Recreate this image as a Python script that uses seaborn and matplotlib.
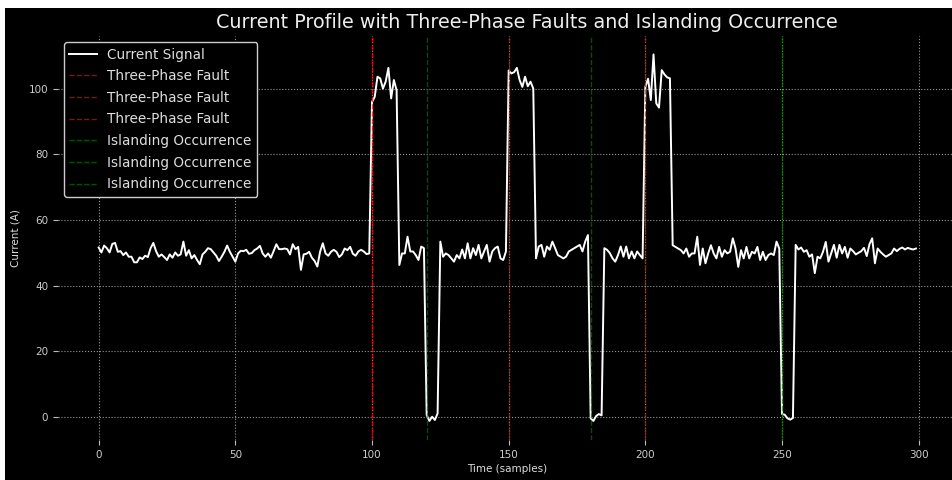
import numpy as np
import pandas as pd
import matplotlib
matplotlib.use("Agg")
import matplotlib.pyplot as plt
from matplotlib.patches import Rectangle
import seaborn as sns

# ---- data ----
base_000_099 = [51.6, 50.1, 52.2, 51.4, 50.1, 52.7, 53.0, 50.3, 50.5, 49.3,
                50.1, 48.8, 48.8, 47.1, 47.1, 48.6, 48.1, 49.1, 48.7, 51.4,
                53.0, 50.5, 48.8, 49.5, 48.7, 47.8, 49.5, 48.5, 50.1, 49.1,
                49.5, 53.4, 49.1, 50.8, 48.3, 49.3, 47.8, 46.5, 49.5, 50.3,
                51.4, 51.1, 50.1, 49.1, 47.5, 48.8, 50.3, 52.2, 50.3, 48.8,
                47.3, 49.8, 50.6, 50.5, 50.9, 49.7, 49.9, 50.8, 51.3, 52.1,
                49.8, 48.8, 49.8, 48.5, 50.5, 52.6, 51.1, 51.1, 51.3, 51.1,
                49.5, 52.6, 51.1, 51.8, 44.8, 49.5, 49.7, 50.3, 48.5, 47.5,
                45.8, 50.3, 52.9, 49.8, 49.1, 50.3, 50.9, 50.3, 48.7, 49.5,
                51.3, 50.8, 51.8, 49.7, 49.1, 50.4, 50.9, 50.4, 49.6, 49.8]
fault_100_109 = [95.9, 97.5, 103.6, 103.1, 100.0, 102.1, 106.3, 97.0, 102.6, 99.5]
base_110_119 = [46.3, 49.8, 49.8, 54.9, 50.4, 50.4, 49.3, 47.8, 51.9, 51.4]
island_120_124 = [0.6, -1.2, 0.1, -0.9, 1.1]
base_125_149 = [53.4, 48.8, 49.8, 49.3, 48.3, 47.3, 49.3, 48.3, 51.0, 48.3,
                52.9, 48.3, 51.4, 49.3, 52.4, 48.3, 50.4, 52.4, 47.3, 50.4,
                51.4, 51.9, 48.3, 47.8, 50.4]
fault_150_159 = [105.5, 104.6, 105.0, 106.3, 102.6, 100.5, 103.6, 100.7, 102.1, 100.0]
base_160_179 = [48.3, 51.9, 52.4, 48.8, 51.9, 50.9, 53.4, 51.4, 49.3, 48.8,
                48.3, 48.8, 50.4, 50.9, 51.4, 51.9, 52.4, 50.4, 53.4, 55.4]
island_180_184 = [-0.4, -1.2, 0.3, 0.9, 0.5]
base_185_199 = [51.4, 50.9, 49.9, 48.3, 47.3, 49.3, 51.9, 48.8, 51.9, 48.3,
                50.4, 48.3, 50.4, 49.3, 48.3]
fault_200_209 = [100.5, 103.0, 96.5, 110.4, 95.5, 94.2, 105.6, 104.3, 103.4, 103.1]
base_210_249 = [52.3, 51.8, 51.3, 50.8, 49.8, 51.3, 48.8, 49.8, 49.8, 54.9,
                46.3, 51.3, 46.8, 49.8, 52.3, 49.8, 48.3, 51.8, 48.8, 50.8,
                49.8, 50.3, 54.4, 51.3, 45.7, 50.8, 48.3, 51.8, 48.3, 50.3,
                49.8, 51.8, 47.8, 50.3, 47.8, 49.3, 49.8, 49.3, 53.4, 51.3]
island_250_254 = [0.9, 0.7, -0.4, -0.8, -0.3]
base_255_299 = [52.4, 51.0, 51.6, 50.3, 50.8, 48.8, 49.5, 43.8, 48.8, 48.3,
                50.3, 53.3, 47.3, 49.8, 52.4, 48.5, 52.4, 49.8, 51.8, 48.5,
                51.3, 50.5, 49.5, 50.0, 50.5, 51.5, 49.0, 52.6, 54.4, 46.8,
                51.3, 50.3, 49.5, 48.8, 49.3, 49.8, 51.3, 50.5, 51.2, 51.6,
                51.0, 51.5, 51.2, 51.0, 51.3]

fault_times = [100, 150, 200]
islanding_times = [120, 180, 250]

current = np.array(base_000_099 + fault_100_109 + base_110_119 + island_120_124
                   + base_125_149 + fault_150_159 + base_160_179 + island_180_184
                   + base_185_199 + fault_200_209 + base_210_249 + island_250_254
                   + base_255_299)
time = np.arange(len(current))
df = pd.DataFrame({"Time": time, "Current": current})

# ---- styling ----
plt.rcParams.update({
    "font.family": ["DejaVu Sans"],
    "text.color": "white",
    "axes.labelcolor": "#dddddd",
    "xtick.color": "#cccccc",
    "ytick.color": "#cccccc",
})

fig = plt.figure(figsize=(9.53, 4.8), dpi=100, facecolor="black")
ax = fig.add_axes([57.8 / 953, 40 / 480, 899 / 953, 404 / 480])
ax.set_facecolor("black")

sns.lineplot(data=df, x="Time", y="Current", color="white", linewidth=1.4,
             label="Current Signal", ax=ax)

for t in fault_times:
    ax.axvline(t, color="red", linestyle="--", linewidth=1.0, alpha=0.7,
               label="Three-Phase Fault")
for t in islanding_times:
    ax.axvline(t, color="green", linestyle="--", linewidth=1.0, alpha=0.65,
               label="Islanding Occurrence")

ax.set_xlim(-14.95, 313.95)
ax.set_ylim(-7.0, 116.0)
ax.set_xticks([0, 50, 100, 150, 200, 250, 300])
ax.set_yticks([0, 20, 40, 60, 80, 100])

ax.grid(True, color="#bbbbbb", linestyle=":", linewidth=0.8, alpha=0.8)
for s in ax.spines.values():
    s.set_visible(False)
ax.tick_params(axis="both", labelsize=7.5, length=3.5, width=0.8, color="#bbbbbb")

ax.set_xlabel("Time (samples)", fontsize=7.5, color="#dddddd", labelpad=3)
ax.set_ylabel("Current (A)", fontsize=7.5, color="#dddddd", labelpad=6)
ax.set_title("Current Profile with Three-Phase Faults and Islanding Occurrence",
             fontsize=13.8, color="#eeeeee", x=0.5214)

leg = ax.legend(loc="upper left", fontsize=9.8, facecolor="black",
                edgecolor="#cccccc", framealpha=1.0, borderaxespad=0.45,
                labelspacing=0.56)
for txt in leg.get_texts():
    txt.set_color("#dddddd")

# thin white borders of the screenshot (top and left)
fig.patches.append(Rectangle((0, 1 - 8 / 480), 1, 8 / 480, transform=fig.transFigure,
                             facecolor="white", edgecolor="none", zorder=10))
fig.patches.append(Rectangle((0, 0), 5 / 953, 1, transform=fig.transFigure,
                             facecolor="white", edgecolor="none", zorder=10))

fig.savefig("out.png", dpi=100, facecolor="black")
